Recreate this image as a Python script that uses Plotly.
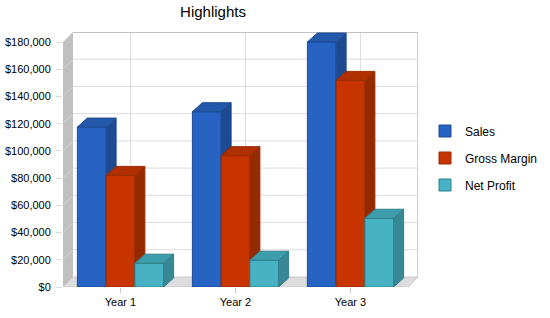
import plotly.graph_objects as go

# ---- data ----
categories = ["Year 1", "Year 2", "Year 3"]
series_names = ["Sales", "Gross Margin", "Net Profit"]
sales = [117500, 128800, 180000]
gross_margin = [82000, 96500, 151800]
net_profit = [17500, 19700, 50500]
y_tick_values = [0, 20000, 40000, 60000, 80000, 100000, 120000, 140000, 160000, 180000]
y_tick_labels = ["$0", "$20,000", "$40,000", "$60,000", "$80,000", "$100,000",
                 "$120,000", "$140,000", "$160,000", "$180,000"]

# ---- styling ----
front_colors = ["#2663C3", "#C83400", "#46B2C4"]
side_colors = ["#1D4A91", "#952900", "#378894"]
top_colors = ["#2358AB", "#B02F00", "#3E9DAD"]
line_colors = ["#1E4C96", "#9A2A00", "#2F808C"]
FONT = "Liberation Sans, Arial, sans-serif"

W, H = 550, 318
L, R, T, B = 63, 132, 32, 31
plot_w = W - L - R
plot_h = H - T - B
px_per_cat = 115.0
x_min = -0.5
x_max = x_min + plot_w / px_per_cat
y_top_tick = max(y_tick_values)
px_per_val = 245.0 / y_top_tick
y_max = plot_h / px_per_val

# depth offsets (converted from pixels to data units)
wall_dx = 10 / px_per_cat
wall_dy = 10 / px_per_val
bar_dx = 10 / px_per_cat
bar_dy = 9 / px_per_val

bar_w = 0.25
n_series = 3
values = [sales, gross_margin, net_profit]
cat_pos = list(range(len(categories)))
x_right_front = x_min + len(categories)

fig = go.Figure()

for s in range(n_series):
    sfx = "" if s == 0 else str(s + 1)
    xa, ya = "x" + sfx, "y" + sfx
    off = -bar_w * n_series / 2 + s * bar_w
    fig.add_trace(go.Bar(
        x=cat_pos, y=values[s], name=series_names[s], legendgroup=series_names[s],
        width=bar_w, offset=off,
        marker=dict(color=front_colors[s], line=dict(color=line_colors[s], width=1)),
        xaxis=xa, yaxis=ya, hoverinfo="skip",
    ))
    for c, v in zip(cat_pos, values[s]):
        x0 = c + off
        x1 = x0 + bar_w
        # side face
        fig.add_trace(go.Scatter(
            x=[x1, x1 + bar_dx, x1 + bar_dx, x1, x1],
            y=[0, bar_dy, v + bar_dy, v, 0],
            fill="toself", fillcolor=side_colors[s], mode="lines",
            line=dict(color=line_colors[s], width=1),
            showlegend=False, hoverinfo="skip", xaxis=xa, yaxis=ya))
        # top face
        fig.add_trace(go.Scatter(
            x=[x0, x0 + bar_dx, x1 + bar_dx, x1, x0],
            y=[v, v + bar_dy, v + bar_dy, v, v],
            fill="toself", fillcolor=top_colors[s], mode="lines",
            line=dict(color=line_colors[s], width=1),
            showlegend=False, hoverinfo="skip", xaxis=xa, yaxis=ya))

shapes = []
# left wall
shapes.append(dict(type="path", xref="x", yref="y", layer="below",
                   path=f"M{x_min},0 L{x_min + wall_dx},{wall_dy} L{x_min + wall_dx},{y_top_tick + wall_dy} L{x_min},{y_top_tick} Z",
                   fillcolor="#C0C0C0", line=dict(width=0)))
# floor
shapes.append(dict(type="path", xref="x", yref="y", layer="below",
                   path=f"M{x_min},0 L{x_right_front},0 L{x_right_front + wall_dx},{wall_dy} L{x_min + wall_dx},{wall_dy} Z",
                   fillcolor="#DDDDDD", line=dict(color="#C8C8C8", width=1)))
# back wall horizontal gridlines + left wall slants
for v in y_tick_values[1:-1]:
    shapes.append(dict(type="line", xref="x", yref="y", layer="below",
                       x0=x_min + wall_dx, x1=x_right_front + wall_dx, y0=v + wall_dy, y1=v + wall_dy,
                       line=dict(color="#DCDCDC", width=1)))
    shapes.append(dict(type="line", xref="x", yref="y", layer="below",
                       x0=x_min, x1=x_min + wall_dx, y0=v, y1=v + wall_dy,
                       line=dict(color="#D2D2D2", width=1)))
# vertical gridlines on back wall
for c in cat_pos:
    shapes.append(dict(type="line", xref="x", yref="y", layer="below",
                       x0=c + wall_dx, x1=c + wall_dx, y0=wall_dy, y1=y_top_tick + wall_dy,
                       line=dict(color="#DCDCDC", width=1)))
# back wall top + right borders
shapes.append(dict(type="line", xref="x", yref="y", layer="below",
                   x0=x_min + wall_dx, x1=x_right_front + wall_dx, y0=y_top_tick + wall_dy, y1=y_top_tick + wall_dy,
                   line=dict(color="#C0C0C0", width=2)))
shapes.append(dict(type="line", xref="x", yref="y", layer="below",
                   x0=x_right_front + wall_dx, x1=x_right_front + wall_dx, y0=wall_dy, y1=y_top_tick + wall_dy,
                   line=dict(color="#C0C0C0", width=1.5)))

hidden = dict(visible=False, showgrid=False, zeroline=False, automargin=False)
fig.update_layout(
    template="none",
    width=W, height=H,
    margin=dict(l=L, r=R, t=T, b=B, pad=0, autoexpand=False),
    paper_bgcolor="white", plot_bgcolor="rgba(0,0,0,0)",
    font=dict(family=FONT, size=11, color="#000000"),
    title=dict(text="Highlights", x=213 / W, xref="container", xanchor="center",
               y=1 - 12 / H, yref="container", yanchor="middle",
               font=dict(family=FONT, size=15, color="#000000")),
    showlegend=True,
    legend=dict(x=(425 - L) / plot_w, xanchor="left", y=(H - B - 158) / plot_h, yanchor="middle",
                font=dict(family=FONT, size=12, color="#000000"),
                traceorder="grouped", tracegroupgap=8, bgcolor="rgba(0,0,0,0)", borderwidth=0),
    xaxis=dict(range=[x_min, x_max], tickvals=cat_pos, ticktext=categories, automargin=False,
               showgrid=False, zeroline=False, showline=False,
               ticks="outside", ticklen=5, tickcolor="#C8C8C8", tickfont=dict(size=11)),
    yaxis=dict(range=[0, y_max], tickvals=y_tick_values, ticktext=y_tick_labels, automargin=False,
               showgrid=False, zeroline=False, showline=False, ticklabelstandoff=3,
               ticks="outside", ticklen=6, tickcolor="#DCDCDC", tickfont=dict(size=11)),
    xaxis2=dict(range=[x_min, x_max], overlaying="x", **hidden),
    yaxis2=dict(range=[0, y_max], overlaying="y", **hidden),
    xaxis3=dict(range=[x_min, x_max], overlaying="x", **hidden),
    yaxis3=dict(range=[0, y_max], overlaying="y", **hidden),
    shapes=shapes,
)

fig.write_html("out.html")
